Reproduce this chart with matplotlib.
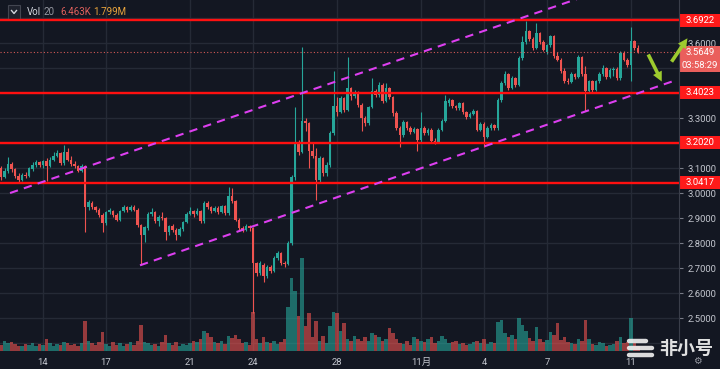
import matplotlib
matplotlib.use('Agg')
import matplotlib.pyplot as plt
import matplotlib.transforms as mtransforms
from matplotlib.patches import Rectangle, FancyArrowPatch
from matplotlib.lines import Line2D

plt.rcParams['font.family'] = ['Roboto', 'Noto Sans CJK SC', 'DejaVu Sans']

# ---------------- data (4h candles, day-of-October time axis) ----------------
start_day = 12.0          # Oct 12 00:00
candles_per_day = 6

opens = [3.100, 3.065, 3.088, 3.118, 3.098, 3.070, 3.055, 3.075, 3.070, 3.098, 3.112, 3.125,
         3.112, 3.128, 3.110, 3.135, 3.150, 3.160, 3.120, 3.165, 3.135, 3.118, 3.110, 3.090,
         3.110, 2.945, 2.962, 2.945, 2.935, 2.915, 2.880, 2.925, 2.930, 2.915, 2.895, 2.930,
         2.945, 2.932, 2.945, 2.935, 2.872, 2.835, 2.862, 2.918, 2.925, 2.890, 2.905, 2.900,
         2.845, 2.870, 2.855, 2.835, 2.858, 2.885, 2.918, 2.930, 2.918, 2.928, 2.888, 2.962,
         2.945, 2.930, 2.940, 2.925, 2.948, 2.920, 2.990, 2.968, 2.895, 2.860, 2.855, 2.870,
         2.860, 2.720, 2.682, 2.715, 2.668, 2.705, 2.690, 2.742, 2.760, 2.722, 2.718, 2.800,
         3.065, 3.205, 3.165, 3.290, 3.280, 3.170, 3.150, 3.055, 3.140, 3.080, 3.115, 3.240,
         3.350, 3.325, 3.380, 3.335, 3.420, 3.390, 3.405, 3.355, 3.300, 3.280, 3.345, 3.410,
         3.392, 3.435, 3.370, 3.420, 3.385, 3.320, 3.262, 3.232, 3.285, 3.262, 3.245, 3.258,
         3.212, 3.262, 3.240, 3.255, 3.210, 3.205, 3.255, 3.290, 3.360, 3.372, 3.348, 3.340,
         3.360, 3.325, 3.305, 3.318, 3.330, 3.255, 3.278, 3.225, 3.262, 3.272, 3.262, 3.372,
         3.440, 3.478, 3.422, 3.460, 3.432, 3.540, 3.605, 3.650, 3.618, 3.582, 3.640, 3.605,
         3.565, 3.592, 3.628, 3.548, 3.535, 3.488, 3.450, 3.445, 3.478, 3.465, 3.545, 3.478,
         3.408, 3.448, 3.412, 3.448, 3.478, 3.502, 3.465, 3.492, 3.498, 3.462, 3.562, 3.535,
         3.512, 3.610, 3.582]
highs = [3.110, 3.100, 3.145, 3.125, 3.102, 3.080, 3.080, 3.085, 3.105, 3.125, 3.135, 3.130,
         3.135, 3.140, 3.145, 3.165, 3.172, 3.165, 3.192, 3.180, 3.150, 3.130, 3.115, 3.118,
         3.115, 2.975, 2.970, 2.950, 2.940, 2.920, 2.930, 2.940, 2.935, 2.920, 2.935, 2.955,
         2.950, 2.952, 2.955, 2.940, 2.878, 2.870, 2.925, 2.940, 2.930, 2.915, 2.925, 2.905,
         2.875, 2.878, 2.862, 2.865, 2.890, 2.925, 2.945, 2.935, 2.940, 2.932, 2.968, 2.970,
         2.950, 2.948, 2.948, 2.955, 2.952, 3.025, 3.022, 2.972, 2.900, 2.870, 2.878, 2.875,
         2.865, 2.725, 2.728, 2.720, 2.712, 2.712, 2.750, 2.768, 2.765, 2.730, 2.808, 3.075,
         3.345, 3.215, 3.585, 3.300, 3.285, 3.200, 3.180, 3.150, 3.145, 3.125, 3.250, 3.490,
         3.385, 3.390, 3.385, 3.545, 3.425, 3.415, 3.410, 3.360, 3.310, 3.350, 3.460, 3.418,
         3.445, 3.440, 3.440, 3.425, 3.390, 3.330, 3.268, 3.292, 3.290, 3.270, 3.265, 3.262,
         3.325, 3.268, 3.262, 3.260, 3.222, 3.262, 3.298, 3.392, 3.380, 3.378, 3.355, 3.366,
         3.365, 3.330, 3.325, 3.338, 3.335, 3.285, 3.285, 3.270, 3.280, 3.278, 3.380, 3.450,
         3.488, 3.482, 3.468, 3.465, 3.548, 3.630, 3.690, 3.655, 3.625, 3.680, 3.645, 3.612,
         3.598, 3.635, 3.632, 3.565, 3.540, 3.500, 3.462, 3.485, 3.482, 3.552, 3.550, 3.510,
         3.455, 3.452, 3.455, 3.485, 3.512, 3.505, 3.500, 3.505, 3.505, 3.570, 3.568, 3.542,
         3.665, 3.615, 3.592]
lows = [3.055, 3.060, 3.080, 3.085, 3.060, 3.040, 3.050, 3.062, 3.065, 3.090, 3.105, 3.105,
        3.100, 3.050, 3.105, 3.128, 3.145, 3.115, 3.115, 3.130, 3.110, 3.100, 3.085, 3.085,
        2.845, 2.935, 2.938, 2.925, 2.905, 2.845, 2.875, 2.918, 2.905, 2.888, 2.890, 2.925,
        2.925, 2.928, 2.930, 2.865, 2.712, 2.805, 2.855, 2.910, 2.880, 2.870, 2.895, 2.812,
        2.835, 2.845, 2.815, 2.828, 2.850, 2.880, 2.912, 2.905, 2.912, 2.880, 2.882, 2.938,
        2.922, 2.925, 2.918, 2.920, 2.912, 2.915, 2.960, 2.888, 2.852, 2.845, 2.848, 2.850,
        2.520, 2.670, 2.675, 2.645, 2.660, 2.680, 2.685, 2.735, 2.715, 2.705, 2.712, 2.795,
        3.055, 3.155, 3.160, 3.250, 3.100, 3.140, 2.975, 3.045, 3.070, 3.070, 3.105, 3.235,
        3.310, 3.320, 3.325, 3.330, 3.375, 3.380, 3.345, 3.250, 3.270, 3.275, 3.340, 3.385,
        3.385, 3.360, 3.365, 3.378, 3.310, 3.255, 3.185, 3.225, 3.255, 3.238, 3.240, 3.170,
        3.205, 3.232, 3.235, 3.200, 3.198, 3.200, 3.248, 3.285, 3.350, 3.340, 3.332, 3.335,
        3.318, 3.298, 3.300, 3.312, 3.250, 3.250, 3.185, 3.220, 3.255, 3.255, 3.255, 3.365,
        3.432, 3.415, 3.418, 3.425, 3.428, 3.535, 3.598, 3.610, 3.575, 3.578, 3.598, 3.568,
        3.558, 3.585, 3.540, 3.528, 3.480, 3.440, 3.438, 3.440, 3.458, 3.460, 3.470, 3.330,
        3.400, 3.405, 3.408, 3.442, 3.470, 3.458, 3.460, 3.470, 3.455, 3.455, 3.528, 3.505,
        3.450, 3.575, 3.560]
closes = [3.065, 3.090, 3.118, 3.096, 3.068, 3.055, 3.075, 3.070, 3.100, 3.115, 3.125, 3.112,
          3.128, 3.110, 3.135, 3.150, 3.160, 3.120, 3.165, 3.135, 3.118, 3.110, 3.090, 3.110,
          2.945, 2.965, 2.945, 2.935, 2.915, 2.880, 2.925, 2.932, 2.915, 2.895, 2.930, 2.945,
          2.932, 2.945, 2.935, 2.872, 2.835, 2.865, 2.918, 2.925, 2.890, 2.905, 2.900, 2.845,
          2.870, 2.855, 2.835, 2.858, 2.885, 2.918, 2.930, 2.918, 2.928, 2.888, 2.962, 2.945,
          2.930, 2.940, 2.925, 2.948, 2.920, 2.990, 2.968, 2.895, 2.860, 2.855, 2.870, 2.860,
          2.720, 2.682, 2.720, 2.668, 2.705, 2.690, 2.742, 2.760, 2.722, 2.718, 2.800, 3.065,
          3.205, 3.165, 3.290, 3.280, 3.170, 3.150, 3.055, 3.140, 3.080, 3.115, 3.240, 3.350,
          3.325, 3.380, 3.335, 3.420, 3.390, 3.405, 3.355, 3.300, 3.280, 3.345, 3.410, 3.392,
          3.435, 3.370, 3.420, 3.385, 3.320, 3.262, 3.232, 3.285, 3.262, 3.245, 3.258, 3.212,
          3.262, 3.240, 3.255, 3.210, 3.205, 3.255, 3.290, 3.368, 3.372, 3.348, 3.340, 3.360,
          3.325, 3.305, 3.318, 3.330, 3.255, 3.278, 3.225, 3.262, 3.272, 3.262, 3.372, 3.440,
          3.478, 3.422, 3.460, 3.432, 3.540, 3.605, 3.650, 3.618, 3.582, 3.640, 3.605, 3.575,
          3.592, 3.628, 3.548, 3.535, 3.488, 3.450, 3.445, 3.478, 3.465, 3.545, 3.478, 3.408,
          3.448, 3.412, 3.448, 3.478, 3.502, 3.465, 3.492, 3.498, 3.462, 3.562, 3.535, 3.512,
          3.610, 3.582, 3.5649]
volumes_k = [6, 10, 8, 9, 7, 5, 5, 7, 6, 8, 5, 7, 6, 12, 8, 5, 7, 6, 9, 8, 6, 7, 5, 8,
             30, 10, 8, 6, 9, 19, 7, 5, 9, 6, 8, 5, 7, 9, 6, 10, 26, 9, 8, 6, 7, 5, 9, 16,
             8, 6, 9, 5, 7, 6, 8, 10, 9, 12, 20, 18, 14, 9, 8, 10, 7, 15, 13, 16, 12, 8, 9, 6,
             39, 12, 8, 14, 9, 8, 10, 7, 9, 12, 44, 73, 60, 35, 93, 25, 38, 14, 30, 10, 15, 8, 25, 39,
             38, 20, 28, 12, 10, 15, 12, 10, 14, 10, 18, 16, 14, 10, 12, 23, 18, 12, 8, 7, 10, 6, 14, 12,
             10, 9, 12, 14, 8, 10, 15, 12, 8, 9, 10, 7, 8, 6, 7, 9, 10, 8, 12, 7, 9, 8, 29, 31,
             18, 14, 16, 12, 33, 26, 20, 13, 10, 24, 12, 9, 11, 19, 16, 28, 11, 14, 9, 8, 7, 12, 10, 31,
             12, 7, 6, 9, 8, 5, 6, 7, 10, 14, 8, 9, 33, 8, 5]

tick_days = [14, 17, 21, 24, 28, 32, 35, 38, 42]
tick_labels = ['14', '17', '21', '24', '28', '11月', '4', '7', '11']
price_ticks = [2.5, 2.6, 2.7, 2.8, 2.9, 3.0, 3.1, 3.2, 3.3, 3.4, 3.5, 3.6, 3.7]
hidden_price_labels = [3.2, 3.4, 3.5, 3.7]   # covered by the price boxes

levels = [3.6922, 3.4023, 3.2020, 3.0417]
last_price = 3.5649
countdown = '03:58:29'
upper_channel = ([12.43, 40.5], [3.001, 3.808])
lower_channel = ([18.62, 43.95], [2.712, 3.447])
legend_vol = ('Vol', '20', '6.463K', '1.799M')

# ---------------- style ----------------
BG = '#131722'
GRID = '#252a36'
UP = '#26a69a'
DOWN = '#ef5350'
W, H = 720, 369
PW, PH = 679, 351
XMIN, XMAX = 11.952, 44.286
YMIN, YMAX = 2.3692, 3.7732

fig = plt.figure(figsize=(W / 100, H / 100), dpi=100, facecolor=BG)
rect = [0, (H - PH) / H, PW / W, PH / H]
axv = fig.add_axes(rect, zorder=0)
ax = fig.add_axes(rect, zorder=1)
axv.set_facecolor(BG)
ax.patch.set_alpha(0)
for a in (ax, axv):
    a.set_xlim(XMIN, XMAX)
    for s in a.spines.values():
        s.set_visible(False)
ax.set_ylim(YMIN, YMAX)
axv.set_ylim(0, PH)

# grid (behind volume)
axv.set_xticks(tick_days)
axv.tick_params(length=0, labelbottom=False, labelleft=False, left=False)
axv.set_yticks([])
axv.grid(axis='x', color=GRID, lw=1)
hblend = mtransforms.blended_transform_factory(axv.transAxes, ax.transData)
for p in price_ticks + [2.4]:
    axv.plot([0, 1], [p, p], transform=hblend, color=GRID, lw=1, zorder=0)

n = len(closes)
t = [start_day + i / candles_per_day for i in range(n)]
is_up = [c >= o for o, c in zip(opens, closes)]
colors = [UP if u else DOWN for u in is_up]

# volume
axv.bar(t, volumes_k, width=0.15, color=colors, alpha=0.6, zorder=2, linewidth=0)

# candles
ax.vlines(t, lows, highs, colors=colors, lw=0.8, zorder=3)
bottoms = [min(o, c) for o, c in zip(opens, closes)]
heights = [max(abs(c - o), 0.003) for o, c in zip(opens, closes)]
ax.bar(t, heights, bottom=bottoms, width=0.12, color=colors, linewidth=0, zorder=4)

# horizontal support/resistance
for lv in levels:
    ax.axhline(lv, color='#ff1010', lw=1.7, zorder=5)
ax.axhline(last_price, color='#e8605c', lw=0.8, ls=(0, (1, 2)), zorder=5, alpha=0.9)

# channel
for xs, ys in (upper_channel, lower_channel):
    ax.plot(xs, ys, color='#dd3ff0', lw=1.5, dashes=(4, 3), zorder=6)

# axes ticks
ax.set_xticks(tick_days)
ax.set_xticklabels(tick_labels)
ax.tick_params(axis='x', length=0, pad=5, labelsize=6.8, labelcolor='#c3c6ce')
ax.yaxis.tick_right()
ax.set_yticks(price_ticks)
ax.set_yticklabels(['' if p in hidden_price_labels else f'{p:.4f}' for p in price_ticks])
ax.tick_params(axis='y', length=3, width=0.8, color='#787b86', pad=3,
               labelsize=6.8, labelcolor='#c3c6ce')

# right-axis price boxes
blend = mtransforms.blended_transform_factory(ax.transAxes, ax.transData)
box_w = (W - PW) / PW
box_h = 13 / 250.0
for lv in levels:
    ax.add_patch(Rectangle((1.0, lv - box_h / 2), box_w, box_h, transform=blend,
                           facecolor='#ff1a1a', edgecolor='none', clip_on=False, zorder=10))
    ax.text(1.0 + box_w / 2 + 0.001, lv, f'{lv:.4f}', transform=blend, ha='center', va='center',
            color='white', fontsize=6.8, clip_on=False, zorder=11)
ax.add_patch(Rectangle((1.0, last_price - box_h / 2), box_w, box_h, transform=blend,
                       facecolor='#ea5f5c', edgecolor='none', clip_on=False, zorder=10))
ax.text(1.0 + box_w / 2 + 0.001, last_price, f'{last_price:.4f}', transform=blend,
        ha='center', va='center', color='white', fontsize=6.8, clip_on=False, zorder=11)
ax.add_patch(Rectangle((1.0, last_price - box_h * 1.5 - 0.002), box_w, box_h, transform=blend,
                       facecolor='#ea5f5c', edgecolor='none', clip_on=False, zorder=10))
ax.text(1.0 + box_w / 2 + 0.001, last_price - box_h - 0.002, countdown, transform=blend,
        ha='center', va='center', color='white', fontsize=6.8, clip_on=False, zorder=11)

# separator of price scale
fig.add_artist(Line2D([PW / W, PW / W], [(H - PH) / H, 1], color='#3a3e4a', lw=0.8))


def fx(px):
    return px / W


def fy(py):
    return 1 - py / H


# arrows
for (x0, y0), (x1, y1) in (((647, 52), (663, 84)), ((670, 64), (689, 36))):
    fig.add_artist(FancyArrowPatch((fx(x0), fy(y0)), (fx(x1), fy(y1)),
                                   transform=fig.transFigure,
                                   arrowstyle='simple,head_width=7,head_length=7,tail_width=2.6',
                                   color='#9dcb2e', lw=0, zorder=20))

# legend
fig.add_artist(Rectangle((fx(8), fy(19)), 12 / W, 14 / H, transform=fig.transFigure,
                         facecolor='#1e222d', edgecolor='#434651', lw=0.8))
fig.add_artist(Line2D([fx(11.5), fx(14), fx(16.5)], [fy(10.5), fy(13.5), fy(10.5)],
                      color='#d1d4dc', lw=1.0))
fig.text(fx(27), fy(12), legend_vol[0], color='#d1d4dc', fontsize=7, va='center', ha='left')
fig.text(fx(44), fy(12), legend_vol[1], color='#9598a1', fontsize=7, va='center', ha='left')
fig.text(fx(60), fy(12), legend_vol[2], color='#e0605c', fontsize=7, va='center', ha='left')
fig.text(fx(93), fy(12), legend_vol[3], color='#e8a33d', fontsize=7, va='center', ha='left')

# watermark
wm = '#f2f2f2'
for (a, b, yy) in ((629, 646, 341), (629, 652, 348), (629, 652, 355)):
    fig.add_artist(Line2D([fx(a), fx(b)], [fy(yy), fy(yy)], color=wm, lw=3.2,
                          solid_capstyle='round', alpha=0.9, zorder=30))
fig.add_artist(Line2D([fx(651.5), fx(652)], [fy(341), fy(341)], color=wm, lw=3.2,
                      solid_capstyle='round', alpha=0.9, zorder=30))
fig.text(fx(686), fy(348), '非小号', color=wm, fontsize=13, fontweight='bold',
         family=['Noto Sans CJK SC'], ha='center', va='center', alpha=0.92, zorder=30)
fig.text(fx(697), fy(361), '⚙', color='#9598a1', fontsize=7, family=['DejaVu Sans'],
         ha='center', va='center')

fig.savefig('out.png', dpi=100, facecolor=BG)
